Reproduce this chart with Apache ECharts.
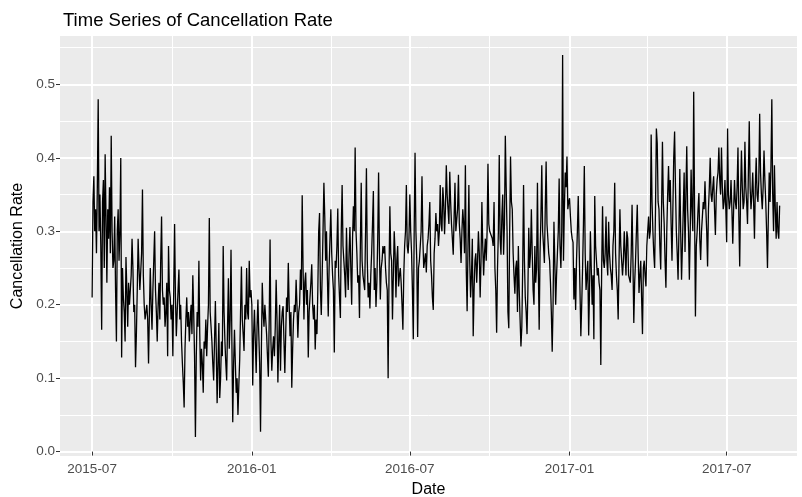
<!DOCTYPE html>
<html>
<head>
<meta charset="utf-8">
<title>Time Series of Cancellation Rate</title>
<script src="https://cdn.jsdelivr.net/npm/echarts@6/dist/echarts.min.js"></script>
<style>
  html, body { margin: 0; padding: 0; background: #fff; }
  #chart { width: 802px; height: 497px; }
</style>
</head>
<body>
<div id="chart"></div>
<script>
// daily cancellation rate, one array per month, first day 2015-07-01
const jul2015 = [0.21, 0.34, 0.375, 0.30, 0.33, 0.27, 0.36, 0.48, 0.30, 0.35, 0.28, 0.166, 0.34, 0.37, 0.25, 0.405, 0.32, 0.23, 0.33, 0.29, 0.36, 0.27, 0.43, 0.30, 0.25, 0.26, 0.32, 0.22, 0.15, 0.30, 0.33]
const aug2015 = [0.26, 0.30, 0.40, 0.128, 0.25, 0.21, 0.19, 0.15, 0.265, 0.22, 0.17, 0.23, 0.20, 0.20, 0.24, 0.29, 0.25, 0.19, 0.20, 0.115, 0.16, 0.22, 0.29, 0.25, 0.22, 0.22, 0.27, 0.357, 0.24, 0.20, 0.18]
const sep2015 = [0.19, 0.20, 0.18, 0.12, 0.19, 0.25, 0.20, 0.166, 0.22, 0.26, 0.30, 0.22, 0.19, 0.15, 0.20, 0.23, 0.18, 0.26, 0.32, 0.22, 0.20, 0.21, 0.17, 0.19, 0.23, 0.13, 0.28, 0.22, 0.21, 0.18]
const oct2015 = [0.20, 0.13, 0.22, 0.31, 0.21, 0.157, 0.19, 0.22, 0.248, 0.18, 0.20, 0.15, 0.12, 0.094, 0.06, 0.14, 0.18, 0.21, 0.17, 0.19, 0.15, 0.18, 0.20, 0.16, 0.24, 0.19, 0.13, 0.02, 0.13, 0.19, 0.17]
const nov2015 = [0.26, 0.16, 0.097, 0.14, 0.12, 0.08, 0.15, 0.14, 0.18, 0.13, 0.17, 0.20, 0.318, 0.19, 0.17, 0.15, 0.12, 0.097, 0.15, 0.205, 0.14, 0.066, 0.12, 0.175, 0.073, 0.10, 0.15, 0.13, 0.28, 0.19]
const dec2015 = [0.15, 0.12, 0.097, 0.17, 0.236, 0.14, 0.18, 0.275, 0.15, 0.04, 0.12, 0.166, 0.12, 0.08, 0.10, 0.05, 0.09, 0.125, 0.19, 0.252, 0.18, 0.16, 0.137, 0.20, 0.18, 0.25, 0.19, 0.18, 0.26, 0.21, 0.22]
const jan2016 = [0.20, 0.09, 0.16, 0.193, 0.15, 0.107, 0.17, 0.207, 0.16, 0.12, 0.027, 0.14, 0.23, 0.19, 0.17, 0.20, 0.18, 0.16, 0.13, 0.102, 0.18, 0.289, 0.15, 0.11, 0.14, 0.157, 0.13, 0.17, 0.234, 0.18, 0.094]
const feb2016 = [0.15, 0.20, 0.11, 0.17, 0.19, 0.198, 0.15, 0.107, 0.16, 0.21, 0.19, 0.257, 0.20, 0.157, 0.19, 0.087, 0.14, 0.18, 0.20, 0.19, 0.234, 0.20, 0.155, 0.19, 0.20, 0.248, 0.22, 0.349, 0.25]
const mar2016 = [0.18, 0.23, 0.244, 0.20, 0.22, 0.128, 0.19, 0.21, 0.23, 0.255, 0.20, 0.18, 0.20, 0.139, 0.18, 0.16, 0.22, 0.30, 0.325, 0.22, 0.186, 0.24, 0.30, 0.366, 0.32, 0.26, 0.30, 0.24, 0.184, 0.25, 0.29]
const apr2016 = [0.33, 0.27, 0.24, 0.22, 0.135, 0.26, 0.25, 0.28, 0.331, 0.24, 0.21, 0.182, 0.30, 0.363, 0.28, 0.26, 0.24, 0.21, 0.305, 0.25, 0.22, 0.27, 0.306, 0.25, 0.20, 0.29, 0.334, 0.30, 0.414, 0.30]
const may2016 = [0.27, 0.23, 0.24, 0.182, 0.28, 0.366, 0.26, 0.24, 0.23, 0.22, 0.30, 0.386, 0.26, 0.21, 0.23, 0.195, 0.24, 0.27, 0.31, 0.355, 0.22, 0.25, 0.197, 0.23, 0.29, 0.38, 0.27, 0.207, 0.25, 0.26, 0.28]
const jun2016 = [0.27, 0.28, 0.25, 0.23, 0.22, 0.10, 0.24, 0.334, 0.27, 0.26, 0.18, 0.24, 0.30, 0.27, 0.21, 0.26, 0.28, 0.225, 0.24, 0.25, 0.23, 0.20, 0.166, 0.24, 0.28, 0.30, 0.363, 0.28, 0.27, 0.29]
const jul2016 = [0.35, 0.30, 0.27, 0.22, 0.153, 0.30, 0.407, 0.30, 0.26, 0.156, 0.25, 0.26, 0.28, 0.30, 0.375, 0.29, 0.25, 0.26, 0.27, 0.244, 0.28, 0.29, 0.31, 0.34, 0.26, 0.24, 0.21, 0.193, 0.27, 0.29, 0.325]
const aug2016 = [0.30, 0.31, 0.28, 0.30, 0.363, 0.31, 0.30, 0.36, 0.34, 0.296, 0.33, 0.39, 0.35, 0.33, 0.31, 0.381, 0.34, 0.31, 0.29, 0.268, 0.32, 0.366, 0.30, 0.30, 0.33, 0.377, 0.31, 0.29, 0.257, 0.30, 0.33]
const sep2016 = [0.31, 0.27, 0.39, 0.248, 0.191, 0.28, 0.363, 0.26, 0.21, 0.24, 0.29, 0.157, 0.22, 0.26, 0.27, 0.23, 0.26, 0.30, 0.27, 0.21, 0.26, 0.34, 0.28, 0.24, 0.27, 0.29, 0.26, 0.30, 0.392, 0.31]
const oct2016 = [0.30, 0.30, 0.30, 0.29, 0.28, 0.34, 0.25, 0.22, 0.162, 0.25, 0.30, 0.404, 0.29, 0.268, 0.32, 0.35, 0.268, 0.31, 0.43, 0.36, 0.30, 0.19, 0.168, 0.30, 0.402, 0.34, 0.33, 0.27, 0.24, 0.215, 0.25]
const nov2016 = [0.26, 0.19, 0.28, 0.22, 0.18, 0.143, 0.17, 0.25, 0.363, 0.26, 0.21, 0.19, 0.16, 0.22, 0.305, 0.25, 0.27, 0.33, 0.27, 0.22, 0.20, 0.28, 0.23, 0.25, 0.366, 0.25, 0.166, 0.27, 0.32, 0.39]
const dec2016 = [0.30, 0.28, 0.257, 0.33, 0.395, 0.31, 0.29, 0.27, 0.26, 0.23, 0.19, 0.136, 0.20, 0.313, 0.26, 0.20, 0.24, 0.27, 0.30, 0.372, 0.28, 0.25, 0.30, 0.54, 0.26, 0.33, 0.38, 0.36, 0.402, 0.33, 0.34]
const jan2017 = [0.345, 0.32, 0.30, 0.29, 0.285, 0.207, 0.25, 0.193, 0.26, 0.30, 0.348, 0.28, 0.22, 0.157, 0.20, 0.25, 0.31, 0.389, 0.27, 0.22, 0.24, 0.26, 0.158, 0.22, 0.30, 0.25, 0.20, 0.24, 0.153, 0.348, 0.28]
const feb2017 = [0.26, 0.24, 0.25, 0.23, 0.22, 0.118, 0.25, 0.334, 0.26, 0.25, 0.27, 0.32, 0.26, 0.24, 0.313, 0.27, 0.25, 0.24, 0.22, 0.28, 0.30, 0.366, 0.27, 0.24, 0.22, 0.18, 0.26, 0.33]
const mar2017 = [0.28, 0.26, 0.24, 0.26, 0.30, 0.27, 0.24, 0.30, 0.29, 0.24, 0.24, 0.23, 0.27, 0.336, 0.26, 0.175, 0.23, 0.26, 0.30, 0.336, 0.27, 0.216, 0.24, 0.26, 0.21, 0.16, 0.25, 0.26, 0.24, 0.225, 0.28]
const apr2017 = [0.30, 0.32, 0.29, 0.30, 0.432, 0.34, 0.30, 0.27, 0.25, 0.33, 0.44, 0.42, 0.34, 0.33, 0.28, 0.248, 0.33, 0.422, 0.34, 0.31, 0.26, 0.223, 0.30, 0.35, 0.389, 0.34, 0.37, 0.31, 0.26, 0.33]
const may2017 = [0.40, 0.436, 0.36, 0.30, 0.27, 0.234, 0.30, 0.385, 0.30, 0.234, 0.28, 0.33, 0.38, 0.272, 0.35, 0.416, 0.33, 0.30, 0.234, 0.30, 0.384, 0.33, 0.30, 0.49, 0.33, 0.184, 0.28, 0.30, 0.33, 0.352, 0.29]
const jun2017 = [0.261, 0.30, 0.32, 0.34, 0.33, 0.368, 0.33, 0.30, 0.252, 0.33, 0.36, 0.40, 0.35, 0.34, 0.36, 0.375, 0.33, 0.295, 0.35, 0.37, 0.38, 0.414, 0.37, 0.35, 0.414, 0.36, 0.33, 0.34, 0.37, 0.33]
const jul2017 = [0.285, 0.44, 0.35, 0.33, 0.34, 0.37, 0.33, 0.283, 0.33, 0.37, 0.34, 0.33, 0.36, 0.414, 0.32, 0.252, 0.35, 0.41, 0.36, 0.33, 0.34, 0.422, 0.36, 0.34, 0.31, 0.38, 0.45, 0.36, 0.33, 0.35, 0.38]
const aug2017 = [0.34, 0.29, 0.36, 0.40, 0.35, 0.34, 0.37, 0.46, 0.38, 0.35, 0.33, 0.36, 0.41, 0.37, 0.34, 0.30, 0.25, 0.32, 0.38, 0.34, 0.39, 0.48, 0.35, 0.30, 0.39, 0.33, 0.29, 0.34, 0.30, 0.29, 0.335]

const months = [jul2015, aug2015, sep2015, oct2015, nov2015, dec2015,
  jan2016, feb2016, mar2016, apr2016, may2016, jun2016, jul2016, aug2016, sep2016, oct2016, nov2016, dec2016,
  jan2017, feb2017, mar2017, apr2017, may2017, jun2017, jul2017, aug2017]

// axis breaks
const xBreaks = ['2015-07-01', '2016-01-01', '2016-07-01', '2017-01-01', '2017-07-01']
const xMinorBreaks = ['2015-10-01', '2016-04-01', '2016-10-01', '2017-04-01']
const yBreaks = [0, 0.1, 0.2, 0.3, 0.4, 0.5]
const yMinorBreaks = [0.05, 0.15, 0.25, 0.35, 0.45, 0.55]

function toTime(s) {
  let p = s.split('-')
  return new Date(+p[0], +p[1] - 1, +p[2]).getTime()
}

let seriesData = []
let day = 0
months.forEach(m => {
  m.forEach(v => {
    seriesData.push([new Date(2015, 6, 1 + day).getTime(), v])
    day++
  })
})

const font = 'Liberation Sans, Arial, Helvetica, sans-serif'
const xMin = new Date(2015, 6, 1 - 37).getTime()
const xMax = new Date(2015, 6, 1 + 812).getTime()

let chart = echarts.init(document.getElementById('chart'), null, { renderer: 'canvas' })
chart.setOption({
  animation: false,
  backgroundColor: '#ffffff',
  title: {
    text: 'Time Series of Cancellation Rate',
    left: 58,
    top: 6,
    textStyle: { fontFamily: font, fontSize: 18.5, fontWeight: 'normal', color: '#000000' }
  },
  grid: {
    left: 60,
    right: 5,
    top: 36,
    bottom: 41,
    outerBoundsMode: 'none',
    containLabel: false,
    show: true,
    backgroundColor: '#ebebeb',
    borderWidth: 0
  },
  xAxis: [
    {
      type: 'value',
      min: xMin,
      max: xMax,
      name: 'Date',
      nameLocation: 'middle',
      nameGap: 26,
      nameTextStyle: { fontFamily: font, fontSize: 16, color: '#000000' },
      axisLine: { show: false },
      axisTick: { show: true, length: 4, lineStyle: { color: '#333333', width: 1 }, customValues: xBreaks.map(toTime) },
      axisLabel: {
        show: true,
        margin: 6,
        fontFamily: font,
        fontSize: 13.5,
        color: '#4d4d4d',
        customValues: xBreaks.map(toTime),
        formatter: function (v) {
          let d = new Date(v)
          let m = d.getMonth() + 1
          return d.getFullYear() + '-' + (m < 10 ? '0' + m : m)
        }
      },
      splitLine: { show: true, lineStyle: { color: '#ffffff', width: 2 } }
    },
    {
      type: 'value',
      min: xMin,
      max: xMax,
      position: 'top',
      axisLine: { show: false },
      axisTick: { show: false, customValues: xMinorBreaks.map(toTime) },
      axisLabel: { show: false, customValues: xMinorBreaks.map(toTime) },
      splitLine: { show: true, lineStyle: { color: '#ffffff', width: 1 } }
    }
  ],
  yAxis: [
    {
      type: 'value',
      min: -0.006,
      max: 0.566,
      name: 'Cancellation Rate',
      nameLocation: 'middle',
      nameGap: 32,
      nameTextStyle: { fontFamily: font, fontSize: 16, color: '#000000' },
      axisLine: { show: false },
      axisTick: { show: true, length: 4, lineStyle: { color: '#333333', width: 1 }, customValues: yBreaks },
      axisLabel: {
        show: true,
        margin: 5,
        fontFamily: font,
        fontSize: 13.5,
        color: '#4d4d4d',
        customValues: yBreaks,
        formatter: v => v.toFixed(1)
      },
      splitLine: { show: true, lineStyle: { color: '#ffffff', width: 2 } }
    },
    {
      type: 'value',
      min: -0.006,
      max: 0.566,
      position: 'right',
      axisLine: { show: false },
      axisTick: { show: false, customValues: yMinorBreaks },
      axisLabel: { show: false, customValues: yMinorBreaks },
      splitLine: { show: true, lineStyle: { color: '#ffffff', width: 1 } }
    }
  ],
  series: [
    {
      type: 'line',
      data: seriesData,
      xAxisIndex: 0,
      yAxisIndex: 0,
      showSymbol: false,
      symbol: 'none',
      lineStyle: { color: '#000000', width: 1.3 },
      silent: true
    }
  ]
})
</script>
</body>
</html>
